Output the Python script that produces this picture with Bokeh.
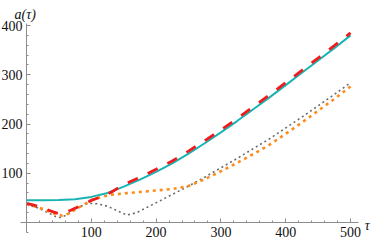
from bokeh.plotting import figure
from bokeh.models import Range1d, SingleIntervalTicker, Label
from bokeh.embed import file_html
from bokeh.resources import INLINE

# --- data ---
tau_cyan = [0, 25, 50, 75, 100, 125, 150, 175, 200, 225, 250, 275, 300, 325, 350, 375, 400, 425, 450, 475, 500]
a_cyan = [45, 45, 45.5, 47, 52, 60, 73, 87, 103, 120, 140, 161, 183, 206, 230, 254, 279, 304, 329, 354, 380]

tau_red = [0, 10, 25, 40, 50, 60, 75, 90, 100, 115, 130, 150, 175, 200, 225, 250, 275, 300, 325, 350, 375, 400, 425, 450, 475, 500]
a_red = [39, 36, 30, 22, 18, 20, 29, 38, 45, 52, 61, 77, 92, 108, 125, 145, 166, 188, 211, 235, 259, 284, 309, 334, 359, 385]

tau_orange = [0, 15, 30, 45, 55, 65, 80, 100, 115, 130, 150, 175, 200, 225, 250, 275, 300, 325, 350, 375, 400, 425, 450, 475, 500]
a_orange = [37, 32, 25, 17, 14, 18, 30, 45, 52, 56, 59, 62, 65, 68, 74, 88, 104, 121, 139, 158, 180, 203, 227, 251, 276]

tau_gray = [0, 15, 30, 45, 52, 60, 75, 95, 110, 125, 140, 155, 170, 185, 200, 225, 250, 275, 300, 325, 350, 375, 400, 425, 450, 475, 500]
a_gray = [36, 31, 22, 12, 10, 14, 28, 39, 38, 33, 24, 15, 20, 30, 40, 57, 74, 92, 111, 130, 150, 170, 192, 214, 237, 260, 284]

x_label = "τ"
y_label = "a(τ)"

FONT = "Liberation Serif"

# whole canvas is the frame; axes drawn at the origin with limited bounds
p = figure(width=374, height=242, output_backend="svg", toolbar_location=None,
           x_range=Range1d(-40.1, 537.0), y_range=Range1d(-40.6, 450.8),
           min_border_left=0, min_border_right=0, min_border_top=0, min_border_bottom=0)
p.outline_line_color = None
p.grid.visible = False
p.background_fill_color = "white"
p.border_fill_color = "white"

p.line(tau_gray, a_gray, line_color="#6e6e6e", line_width=1.6, line_dash="2 3")
p.line(tau_orange, a_orange, line_color="#ff8c1a", line_width=2.6, line_dash="3 4")
p.line(tau_cyan, a_cyan, line_color="#1ab3b3", line_width=2)
p.line(tau_red, a_red, line_color="#ee1c1c", line_width=2.8, line_dash="11 11")

xa = p.xaxis[0]
ya = p.yaxis[0]
xa.bounds = (-9, 513)
ya.bounds = (-20, 404)
for ax in (xa, ya):
    ax.fixed_location = 0
    ax.ticker = SingleIntervalTicker(interval=100, num_minor_ticks=5)
    ax.major_label_overrides = {0: ""}
    ax.axis_line_color = "#8c8c8c"
    ax.axis_line_width = 1
    ax.major_tick_line_color = "#8c8c8c"
    ax.minor_tick_line_color = "#8c8c8c"
    ax.major_tick_in = 4
    ax.major_tick_out = 0
    ax.minor_tick_in = 2
    ax.minor_tick_out = 0
    ax.major_label_text_font = FONT
    ax.major_label_text_font_size = "14px"
    ax.major_label_text_color = "#111111"
ya.major_label_standoff = 4
xa.major_label_standoff = 4

p.add_layout(Label(x=-18.5, y=423, text=y_label, text_font=FONT, text_font_style="italic",
                   text_font_size="14px", text_align="left", text_baseline="alphabetic",
                   text_color="#111111"))
p.add_layout(Label(x=522, y=-7, text=x_label, text_font=FONT, text_font_style="italic",
                   text_font_size="14px", text_align="left", text_baseline="alphabetic",
                   text_color="#111111"))

open("out.html", "w").write(file_html(p, INLINE))
